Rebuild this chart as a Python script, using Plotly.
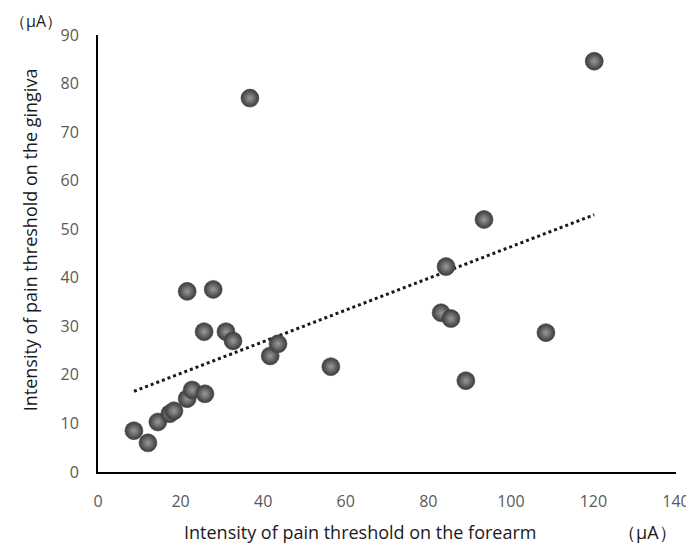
import numpy as np
import plotly.graph_objects as go

forearm = [8.7, 12.1, 14.5, 17.4, 18.4, 21.6, 22.8, 25.9, 21.6, 27.9, 25.7, 31.0,
           32.7, 41.7, 43.6, 36.8, 56.4, 83.1, 84.3, 85.5, 89.1, 93.5, 108.5, 120.2]
gingiva = [8.5, 6.0, 10.3, 12.0, 12.6, 15.1, 16.9, 16.1, 37.2, 37.6, 28.9, 28.9,
           27.0, 23.9, 26.4, 77.0, 21.7, 32.8, 42.3, 31.6, 18.8, 52.0, 28.7, 84.6]
x_ticks = [0, 20, 40, 60, 80, 100, 120, 140]
y_ticks = [0, 10, 20, 30, 40, 50, 60, 70, 80, 90]

xa = np.array(forearm)
ya = np.array(gingiva)
slope, intercept = np.polyfit(xa, ya, 1)
tx = np.array([xa.min(), xa.max()])
ty = slope * tx + intercept

fig = go.Figure()
fig.add_trace(go.Scatter(x=tx, y=ty, mode="lines",
                         line=dict(color="#1a1a1a", width=3, dash="dot"),
                         hoverinfo="skip", showlegend=False))
fig.add_trace(go.Scatter(x=forearm, y=gingiva, mode="markers",
                         marker=dict(size=18, color="#3a3a3a",
                                     gradient=dict(type="radial", color="#9a9a9a"),
                                     line=dict(width=0.6, color="#4a4a4a")),
                         showlegend=False))

title_font = dict(family="Open Sans", size=18, color="#1a1a1a")
fig.update_layout(
    width=694, height=550,
    margin=dict(l=90, r=26, t=27, b=86),
    plot_bgcolor="white", paper_bgcolor="white",
    font=dict(family="Open Sans", color="#595959", size=16),
    xaxis=dict(range=[0, 140], tickvals=x_ticks, showgrid=False, zeroline=False,
               showline=True, linecolor="black", linewidth=2, ticks="",
               automargin=False, ticklabelstandoff=14,
               tickfont=dict(size=16, color="#595959")),
    yaxis=dict(range=[0, 90], tickvals=y_ticks, showgrid=False, zeroline=False,
               showline=True, linecolor="black", linewidth=2, ticks="",
               automargin=False, ticklabelstandoff=14,
               tickfont=dict(size=16, color="#595959")),
    annotations=[
        dict(text="Intensity of pain threshold on the forearm", x=0.453, y=-0.137,
             xref="paper", yref="paper", showarrow=False, xanchor="center", yanchor="middle",
             font=title_font),
        dict(text="（μA）", x=1.005, y=-0.137, xref="paper", yref="paper", showarrow=False,
             xanchor="right", yanchor="middle", font=title_font),
        dict(text="Intensity of pain threshold on the gingiva", x=-0.117, y=0.531,
             xref="paper", yref="paper", showarrow=False, textangle=-90,
             xanchor="center", yanchor="middle", font=title_font),
        dict(text="（μA）", x=-0.1555, y=1.033, xref="paper", yref="paper", showarrow=False,
             xanchor="left", yanchor="middle",
             font=dict(family="Open Sans", size=16, color="#1a1a1a")),
    ],
)
fig.write_html("out.html")
